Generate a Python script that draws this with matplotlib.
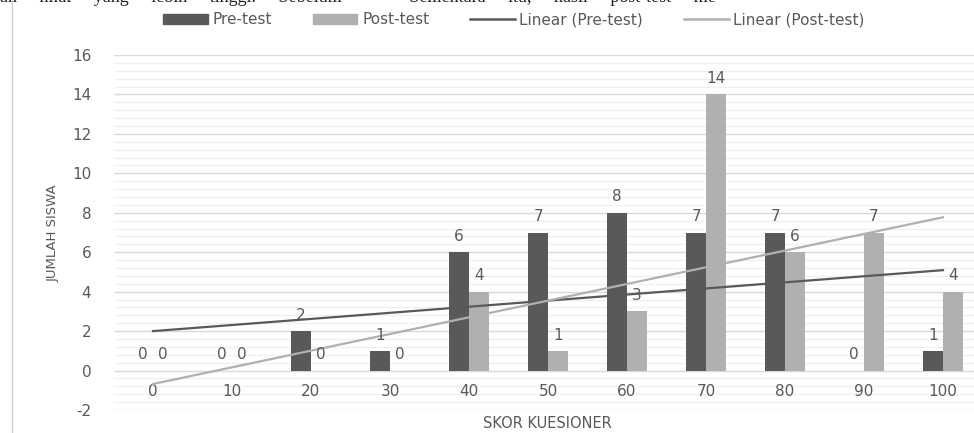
import numpy as np
import matplotlib.pyplot as plt
from matplotlib.lines import Line2D
from matplotlib.patches import Patch

# data
skor = ['0', '10', '20', '30', '40', '50', '60', '70', '80', '90', '100']
pre_test = [0, 0, 2, 1, 6, 7, 8, 7, 7, 0, 1]
post_test = [0, 0, 0, 0, 4, 1, 3, 14, 6, 7, 4]

c_pre = '#595959'
c_post = '#b0b0b0'
c_text = '#595959'

plt.rcParams['font.family'] = ['DejaVu Sans']
plt.rcParams['axes.unicode_minus'] = False

fig = plt.figure(figsize=(9.74, 4.33), dpi=100)
ax = fig.add_axes([113.5 / 974, 23 / 433, 1 - 113.5 / 974, 355 / 433])

x = np.arange(len(skor))
w = 0.25
b1 = ax.bar(x - w / 2, pre_test, w, color=c_pre, zorder=3)
b2 = ax.bar(x + w / 2, post_test, w, color=c_post, zorder=3)

# linear trendlines (like Excel, fitted on 1..n)
for vals, col in [(pre_test, c_pre), (post_test, c_post)]:
    k, b = np.polyfit(x + 1, vals, 1)
    ax.plot(x, k * (x + 1) + b, color=col, lw=1.6, zorder=4)

# data labels
for bars, vals in [(b1, pre_test), (b2, post_test)]:
    for r, v in zip(bars, vals):
        ax.annotate(str(v), (r.get_x() + r.get_width() / 2, v), xytext=(0, 6),
                    textcoords='offset points', ha='center', va='bottom',
                    fontsize=11, color=c_text, zorder=5)

# category labels sit below the zero line
for xi, s in zip(x, skor):
    ax.text(xi, -1.05, s, ha='center', va='center', fontsize=11, color=c_text)

ax.set_xlim(-0.5, (974 - 153) / 79)
ax.set_ylim(-2, 16)
ax.set_yticks(np.arange(-2, 17, 2))
ax.set_yticks(np.arange(-2, 16.01, 0.4), minor=True)
ax.set_xticks([])
ax.grid(axis='y', which='major', color='#d9d9d9', lw=1, zorder=0)
ax.grid(axis='y', which='minor', color='#f0f0f0', lw=1, zorder=0)
ax.tick_params(axis='y', which='both', length=0, pad=16, labelsize=11, labelcolor=c_text)
for sp in ax.spines.values():
    sp.set_visible(False)

fig.text(53 / 974, 1 - 233 / 433, 'JUMLAH SISWA', rotation=90, ha='center', va='center',
         fontsize=9.5, color=c_text)
fig.text(547 / 974, 10 / 433, 'SKOR KUESIONER', ha='center', va='center',
         fontsize=10.5, color=c_text)

handles = [Patch(color=c_pre), Patch(color=c_post),
           Line2D([], [], color=c_pre, lw=1.8), Line2D([], [], color=c_post, lw=1.8)]
labels = ['Pre-test', 'Post-test', 'Linear (Pre-test)', 'Linear (Post-test)']
fig.legend(handles, labels, ncol=4, loc='center', bbox_to_anchor=(514 / 974, 1 - 20 / 433),
           frameon=False, fontsize=11, labelcolor=c_text, handlelength=2.9, handleheight=0.6,
           columnspacing=2.7, handletextpad=0.3)

# page border and cut-off document text from the scan
fig.add_artist(Line2D([12 / 974, 12 / 974], [0, 1], color='#d0d0d0', lw=1))
fig.text(0, 1 + 3 / 433, 'an     nilai     yang     lebih     tinggi.     Sebelum          '
         '     Sementara     itu,     hasil     post-test     me',
         ha='left', va='center', fontsize=13, family='Liberation Serif', color='#222222')

fig.savefig('out.png', dpi=100)
